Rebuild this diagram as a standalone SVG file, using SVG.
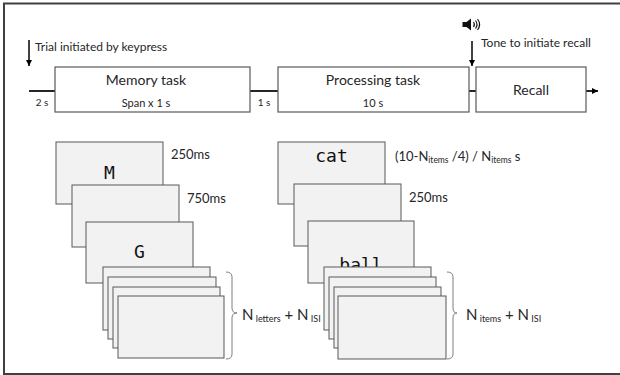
<svg xmlns="http://www.w3.org/2000/svg" width="620" height="375" viewBox="0 0 620 375">
<defs>
<marker id="ah" markerWidth="8" markerHeight="8" refX="6" refY="4" orient="auto" markerUnits="userSpaceOnUse">
<path d="M0,1 L6,4 L0,7 Z" fill="#000"/>
</marker>
<style>
.t{font-family:Lato,"Open Sans","Liberation Sans",sans-serif;fill:#262626}
.box{fill:#fff;stroke:#595959;stroke-width:1.2}
.card{fill:#f2f2f2;stroke:#595959;stroke-width:1}
.mono{font-family:"DejaVu Sans Mono","Liberation Mono",monospace;fill:#111}
.line{stroke:#262626;stroke-width:2;fill:none}
.brace{stroke:#7f7f7f;stroke-width:1;fill:none}
</style>
</defs>
<rect x="4" y="3.5" width="620" height="370.5" fill="#fff" stroke="#404040" stroke-width="2"/>

<g id="connectors">
<line class="line" x1="29" y1="91" x2="55" y2="91"/>
<line class="line" x1="250" y1="91" x2="278" y2="91"/>
<line class="line" x1="469" y1="91" x2="476" y2="91"/>
<line class="line" x1="586" y1="91" x2="598" y2="91" marker-end="url(#ah)"/>
<line stroke="#000" stroke-width="1.5" x1="29" y1="40" x2="29" y2="66" marker-end="url(#ah)"/>
<line stroke="#000" stroke-width="1.5" x1="472" y1="41" x2="472" y2="66" marker-end="url(#ah)"/>
</g>

<g id="trial-label"><text class="t" x="35" y="51" font-size="12">Trial initiated by keypress</text></g>
<g id="tone-label">
<path d="M462.5,22 h4 l4.5,-3.5 v12 l-4.5,-3.5 h-4 z" fill="#111"/>
<path d="M473.5,22 q1.8,2.5 0,5 M475.5,20.5 q3,4 0,8 M477.5,19 q4.2,5.5 0,11" stroke="#111" stroke-width="1.1" fill="none"/>
<text class="t" x="481" y="47" font-size="12">Tone to initiate recall</text>
</g>

<g id="memory-task">
<rect class="box" x="55" y="67" width="195" height="45"/>
<text class="t" x="146" y="85" font-size="14" text-anchor="middle">Memory task</text>
<text class="t" x="146" y="107" font-size="11" text-anchor="middle">Span x 1 s</text>
</g>
<g id="processing-task">
<rect class="box" x="278" y="67" width="191" height="45"/>
<text class="t" x="373" y="85" font-size="14" text-anchor="middle">Processing task</text>
<text class="t" x="373" y="107" font-size="11" text-anchor="middle">10 s</text>
</g>
<g id="recall">
<rect class="box" x="476" y="67" width="110" height="45"/>
<text class="t" x="531" y="95" font-size="14" text-anchor="middle">Recall</text>
</g>
<g id="interval-labels">
<text class="t" x="42" y="106" font-size="10" text-anchor="middle">2 s</text>
<text class="t" x="264" y="106" font-size="10" text-anchor="middle">1 s</text>
</g>

<g id="memory-cards">
<rect class="card" x="56" y="142" width="107" height="62"/>
<text class="mono" x="109.5" y="179" font-size="18" text-anchor="middle">M</text>
<rect class="card" x="72" y="185" width="107" height="62"/>
<rect class="card" x="86" y="222" width="107" height="61"/>
<text class="mono" x="139.5" y="258" font-size="18" text-anchor="middle">G</text>
<rect class="card" x="103" y="267" width="107" height="63"/>
<rect class="card" x="108" y="277" width="108" height="62"/>
<rect class="card" x="113" y="287" width="107" height="61"/>
<rect class="card" x="118" y="296" width="106" height="62"/>
<text class="t" x="171" y="159" font-size="13">250ms</text>
<text class="t" x="187" y="203" font-size="13">750ms</text>
<path class="brace" d="M226,272 q6,0 6,5 v31 q0,5 5,5 q-5,0 -5,5 v36 q0,5 -6,5"/>
<text class="t" x="242" y="320" font-size="15">N<tspan font-size="9" dy="2"> letters</tspan><tspan dy="-2"> + N</tspan><tspan font-size="9" dy="2"> ISI</tspan></text>
</g>

<g id="processing-cards">
<rect class="card" x="278" y="142" width="107" height="62"/>
<text class="mono" x="331.5" y="162" font-size="18" text-anchor="middle">cat</text>
<rect class="card" x="294" y="184" width="107" height="62"/>
<rect class="card" x="308" y="221" width="106" height="62"/>
<text class="mono" x="361" y="271" font-size="18" text-anchor="middle">ball</text>
<rect class="card" x="324" y="267" width="107" height="63"/>
<rect class="card" x="329" y="277" width="107" height="62"/>
<rect class="card" x="334" y="287" width="107" height="61"/>
<rect class="card" x="338" y="296" width="108" height="63"/>
<text class="t" x="395" y="161" font-size="13">(10-N<tspan font-size="8.5" dy="2">items</tspan><tspan dy="-2"> /4) / N</tspan><tspan font-size="8.5" dy="2">items</tspan><tspan dy="-2"> s</tspan></text>
<text class="t" x="409" y="202" font-size="13">250ms</text>
<path class="brace" d="M447,272 q6,0 6,5 v31 q0,5 4,5 q-4,0 -4,5 v36 q0,5 -6,5"/>
<text class="t" x="466" y="320" font-size="15">N<tspan font-size="9" dy="2"> items</tspan><tspan dy="-2"> + N</tspan><tspan font-size="9" dy="2"> ISI</tspan></text>
</g>
</svg>
